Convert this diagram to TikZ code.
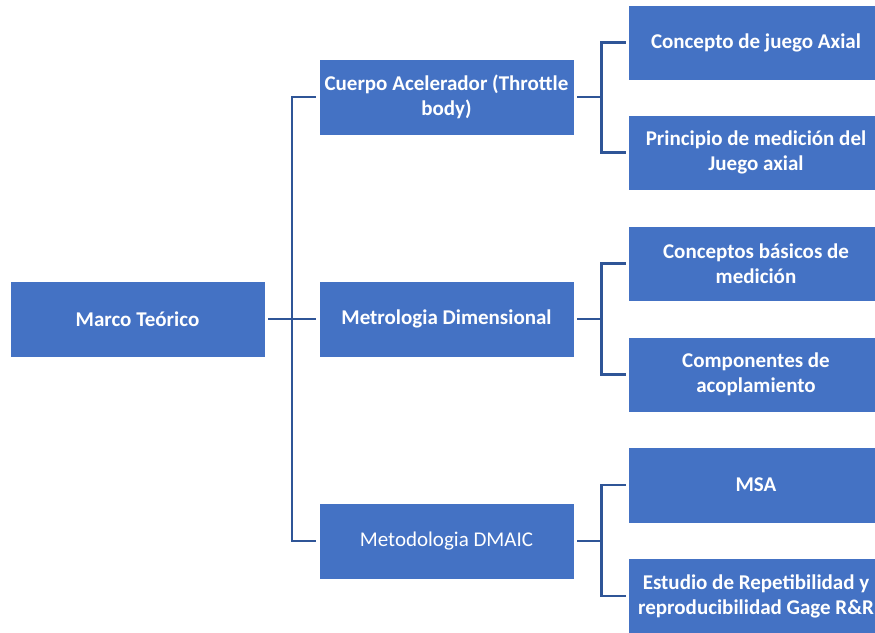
\documentclass[tikz,border=0pt]{standalone}
\usepackage{fontspec}
\setmainfont{Carlito}
\definecolor{boxblue}{HTML}{4472C4}
\definecolor{lineblue}{HTML}{2F5597}
\begin{document}
\begin{tikzpicture}[x=1pt,y=-1pt,
  box/.style={draw=white,line width=0.8pt,fill=boxblue,text=white,font=\fontsize{21}{25}\selectfont\bfseries,align=center,inner sep=0pt},
  link/.style={draw=lineblue,line width=2.6pt}]
\useasboundingbox (0,0) rectangle (875,632);
\clip (0,0) rectangle (875,632);
% root
\node[box,minimum width=255pt,minimum height=76pt] (root) at (137.5,319) {Marco Teórico};
% middle
\node[box,minimum width=255pt,minimum height=76pt] (m1) at (446.5,97) {Cuerpo Acelerador (Throttle\\body)};
\node[box,minimum width=255pt,minimum height=76pt] (m2) at (446.5,319) {Metrologia Dimensional};
\node[box,minimum width=255pt,minimum height=76pt,font=\fontsize{21}{25}\selectfont] (m3) at (446.5,541) {Metodologia DMAIC};
% right
\node[box,minimum width=256pt,minimum height=75pt] (r1) at (756,42.5) {Concepto de juego Axial};
\node[box,minimum width=256pt,minimum height=75pt] (r2) at (756,152.5) {Principio de medición del\\Juego axial};
\node[box,minimum width=256pt,minimum height=75pt] (r3) at (756,263.5) {Conceptos básicos de\\medición};
\node[box,minimum width=256pt,minimum height=75pt] (r4) at (756,374.5) {Componentes de\\acoplamiento};
\node[box,minimum width=256pt,minimum height=76pt] (r5) at (756,485) {MSA};
\node[box,minimum width=256pt,minimum height=76pt] (r6) at (756,596) {Estudio de Repetibilidad y\\reproducibilidad Gage R\&R};
% connectors root -> middle
\coordinate (j0) at (292,319);
\draw[link] ([xshift=3pt]root.east) -- (j0) -- ([xshift=-3pt]m2.west);
\draw[link] ([xshift=-3pt]m1.west) -| (j0);
\draw[link] ([xshift=-3pt]m3.west) -| (j0);
% connectors middle -> right
\foreach \m/\a/\b in {m1/r1/r2, m2/r3/r4, m3/r5/r6}{
  \draw[link] ([xshift=3pt]\m.east) -- ++(24,0) coordinate (j);
  \draw[link] ([xshift=-2pt]\a.west) -| (j) |- ([xshift=-2pt]\b.west);
}
\end{tikzpicture}
\end{document}
